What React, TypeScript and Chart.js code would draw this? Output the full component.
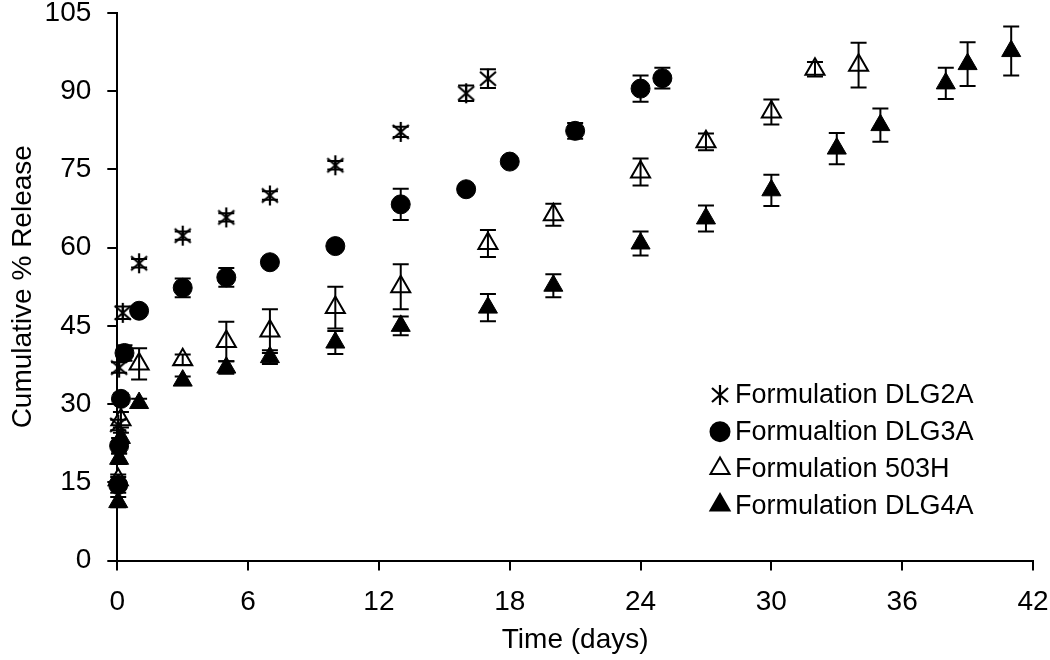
import React, { useEffect, useRef } from 'react';
import { Chart, registerables } from 'chart.js';
import { drawPoint } from 'chart.js/helpers';

Chart.register(...registerables);

// ---------- data ----------
const seriesLabels = ['Formulation DLG2A', 'Formualtion DLG3A', 'Formulation 503H', 'Formulation DLG4A'];

const daysDLG2A = [0.042, 0.083, 0.25, 1, 3, 5, 7, 10, 13, 16, 17];
const relDLG2A = [26, 37, 47.5, 57, 62.3, 65.8, 70, 75.8, 82.2, 89.6, 92.4];
const errDLG2A = [1, 1, 1.2, 0.8, 0.8, 0.8, 0.8, 0.8, 1, 1.5, 1.8];

const daysDLG3A = [0.042, 0.083, 0.167, 0.33, 1, 3, 5, 7, 10, 13, 16, 18, 21, 24, 25];
const relDLG3A = [14.5, 22, 31, 39.8, 47.9, 52.3, 54.3, 57.2, 60.3, 68.3, 71.2, 76.5, 82.4, 90.5, 92.5];
const errDLG3A = [1.5, 1.5, 1, 1.5, 0.8, 1.8, 1.8, 0.8, 0.8, 3, 0.8, 0.8, 1.5, 2.5, 2];

const days503H = [0.042, 0.167, 1, 3, 5, 7, 10, 13, 17, 20, 24, 27, 30, 32, 34];
const rel503H = [15.5, 27, 37.7, 38.5, 42, 44, 48.5, 52.5, 60.8, 66.3, 74.5, 80.3, 86, 94.2, 95];
const err503H = [1, 1.5, 3, 1, 3.8, 4.2, 4, 4.3, 2.6, 2.1, 2.6, 1.6, 2.4, 1.4, 4.3];

const daysDLG4A = [0.042, 0.083, 0.167, 1, 3, 5, 7, 10, 13, 17, 20, 24, 27, 30, 33, 35, 38, 39, 41];
const relDLG4A = [11.2, 19.5, 23.5, 30.2, 34.5, 37, 39, 41.8, 45, 48.5, 52.7, 60.8, 65.6, 71, 79, 83.5, 91.5, 95.2, 97.7];
const errDLG4A = [1, 1, 1, 0.8, 0.8, 1.2, 1.3, 2.2, 1.8, 2.6, 2.2, 2.3, 2.5, 3, 3, 3.2, 3, 4.2, 4.7];

const xTickStep = 6;
const yTickStep = 15;
const xMax = 42;
const yMax = 105;

const FONT = '"Liberation Sans", Arial, sans-serif';

function makeAsterisk(): HTMLCanvasElement {
  const c = document.createElement('canvas');
  c.width = 22;
  c.height = 22;
  const ctx = c.getContext('2d')!;
  ctx.strokeStyle = '#000';
  ctx.lineWidth = 2.2;
  ctx.beginPath();
  ctx.moveTo(11, 1);
  ctx.lineTo(11, 21);
  ctx.moveTo(3, 4);
  ctx.lineTo(19, 18);
  ctx.moveTo(19, 4);
  ctx.lineTo(3, 18);
  ctx.stroke();
  return c;
}

const errorSets = [errDLG2A, errDLG3A, err503H, errDLG4A];

const errorBarPlugin = {
  id: 'errorBars',
  afterDatasetsDraw(chart: any) {
    const { ctx, scales } = chart;
    const xs = scales.x;
    const ys = scales.y;
    ctx.save();
    ctx.strokeStyle = '#000';
    ctx.lineWidth = 2;
    chart.data.datasets.forEach((ds: any, i: number) => {
      const errs = errorSets[i];
      ds.data.forEach((p: any, j: number) => {
        const e = errs[j];
        const px = xs.getPixelForValue(p.x);
        const top = ys.getPixelForValue(p.y + e);
        const bot = ys.getPixelForValue(p.y - e);
        ctx.beginPath();
        ctx.moveTo(px, top);
        ctx.lineTo(px, bot);
        ctx.moveTo(px - 8, top);
        ctx.lineTo(px + 8, top);
        ctx.moveTo(px - 8, bot);
        ctx.lineTo(px + 8, bot);
        ctx.stroke();
      });
    });
    ctx.restore();
  },
};

const legendPlugin = {
  id: 'insideLegend',
  afterDraw(chart: any) {
    const { ctx, chartArea } = chart;
    const mx = chartArea.right - 313;
    const tx = mx + 15;
    const y0 = chartArea.bottom - 165.5;
    const rowH = 36.7;
    ctx.save();
    chart.data.datasets.forEach((ds: any, i: number) => {
      const y = y0 + i * rowH;
      ctx.fillStyle = ds.pointBackgroundColor;
      ctx.strokeStyle = ds.pointBorderColor;
      drawPoint(ctx, {
        pointStyle: ds.pointStyle,
        rotation: 0,
        radius: ds.pointRadius,
        borderWidth: ds.pointBorderWidth,
      } as any, mx, y);
      ctx.fillStyle = '#000';
      ctx.font = `27px ${FONT}`;
      ctx.textBaseline = 'middle';
      ctx.textAlign = 'left';
      ctx.fillText(ds.label, tx, y + 1);
    });
    ctx.restore();
  },
};

export default function App() {
  const ref = useRef<HTMLCanvasElement | null>(null);

  useEffect(() => {
    if (!ref.current) return;
    const asterisk = makeAsterisk();
    const toPts = (xs: number[], ys: number[]) => xs.map((x, i) => ({ x, y: ys[i] }));

    const chart = new Chart(ref.current, {
      type: 'scatter',
      data: {
        datasets: [
          {
            label: seriesLabels[0],
            data: toPts(daysDLG2A, relDLG2A),
            pointStyle: asterisk as any,
            pointRadius: 10,
            pointBackgroundColor: '#000',
            pointBorderColor: '#000',
            pointBorderWidth: 2,
            clip: false as any,
          },
          {
            label: seriesLabels[1],
            data: toPts(daysDLG3A, relDLG3A),
            pointStyle: 'circle',
            pointRadius: 9.5,
            pointBackgroundColor: '#000',
            pointBorderColor: '#000',
            pointBorderWidth: 1,
            clip: false as any,
          },
          {
            label: seriesLabels[2],
            data: toPts(days503H, rel503H),
            pointStyle: 'triangle',
            pointRadius: 11,
            pointBackgroundColor: '#fff',
            pointBorderColor: '#000',
            pointBorderWidth: 2,
            clip: false as any,
          },
          {
            label: seriesLabels[3],
            data: toPts(daysDLG4A, relDLG4A),
            pointStyle: 'triangle',
            pointRadius: 11,
            pointBackgroundColor: '#000',
            pointBorderColor: '#000',
            pointBorderWidth: 1,
            clip: false as any,
          },
        ],
      },
      options: {
        responsive: false,
        animation: false,
        devicePixelRatio: 1,
        layout: { padding: { top: 12, right: 17, left: 0, bottom: 0 } },
        plugins: {
          legend: { display: false },
          tooltip: { enabled: false },
        },
        scales: {
          x: {
            type: 'linear',
            min: 0,
            max: xMax,
            ticks: { stepSize: xTickStep, color: '#000', font: { family: FONT, size: 28 }, padding: 15 },
            grid: { drawOnChartArea: false, drawTicks: true, tickLength: 10, color: '#000', lineWidth: 2 },
            border: { display: true, color: '#000', width: 2 },
            title: {
              display: true,
              text: 'Time (days)',
              color: '#000',
              font: { family: FONT, size: 28 },
              padding: { top: 0, bottom: 3 },
            },
            afterFit: (s: any) => {
              s.height = 99.5;
              s.paddingLeft = 0;
              s.paddingRight = 0;
            },
          },
          y: {
            type: 'linear',
            min: 0,
            max: yMax,
            ticks: { stepSize: yTickStep, color: '#000', font: { family: FONT, size: 28 }, padding: 16 },
            grid: { drawOnChartArea: false, drawTicks: true, tickLength: 10, color: '#000', lineWidth: 2 },
            border: { display: true, color: '#000', width: 2 },
            title: {
              display: true,
              text: 'Cumulative % Release',
              color: '#000',
              font: { family: FONT, size: 28 },
              padding: { top: 6, bottom: 0 },
            },
            afterFit: (s: any) => {
              s.width = 117.3;
              s.paddingTop = 0;
              s.paddingBottom = 0;
            },
          },
        },
      },
      plugins: [errorBarPlugin, legendPlugin],
    } as any);

    return () => chart.destroy();
  }, []);

  return (
    <div style={{ position: 'absolute', left: 0, top: 0, width: 1050, height: 660, background: '#fff' }}>
      <canvas ref={ref} width={1050} height={660} style={{ width: 1050, height: 660 }} />
    </div>
  );
}
